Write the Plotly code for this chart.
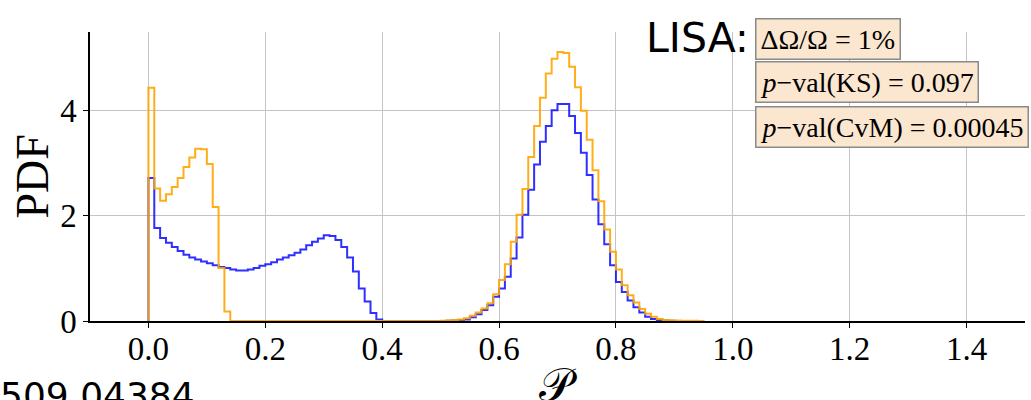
import plotly.graph_objects as go

# ---- data ----
bin_width = 0.01
blue_pdf = [2.72, 1.77, 1.58, 1.49, 1.41, 1.33, 1.26, 1.21, 1.17, 1.13,
            1.10, 1.06, 1.03, 1.01, 0.98, 0.96, 0.96, 0.98, 1.01, 1.05,
            1.08, 1.12, 1.17, 1.21, 1.25, 1.30, 1.36, 1.44, 1.51, 1.57,
            1.63, 1.62, 1.54, 1.41, 1.21, 0.94, 0.62, 0.37, 0.15, 0.03,
            0, 0, 0, 0, 0, 0, 0, 0, 0, 0,
            0.0, 0.005, 0.01, 0.02, 0.03, 0.07, 0.13, 0.21, 0.30, 0.46,
            0.62, 0.84, 1.19, 1.59, 2.02, 2.50, 2.98, 3.41, 3.71, 4.01,
            4.13, 4.13, 3.90, 3.58, 3.20, 2.78, 2.31, 1.84, 1.46, 1.06,
            0.74, 0.55, 0.39, 0.26, 0.16, 0.08, 0.04, 0.02, 0.01, 0.005]
orange_pdf = [4.44, 2.52, 2.29, 2.41, 2.55, 2.72, 2.93, 3.11, 3.28, 3.27,
              2.99, 2.17, 1.01, 0.18, 0, 0, 0, 0, 0, 0,
              0, 0, 0, 0, 0, 0, 0, 0, 0, 0,
              0, 0, 0, 0, 0, 0, 0, 0, 0, 0,
              0, 0, 0, 0, 0, 0, 0, 0, 0, 0,
              0.005, 0.01, 0.02, 0.03, 0.05, 0.10, 0.16, 0.24, 0.34, 0.51,
              0.78, 1.08, 1.51, 2.02, 2.51, 3.12, 3.71, 4.25, 4.71, 4.99,
              5.12, 5.10, 4.84, 4.45, 4.00, 3.45, 2.87, 2.28, 1.74, 1.32,
              0.98, 0.68, 0.49, 0.35, 0.23, 0.14, 0.08, 0.04, 0.02, 0.01,
              0.01, 0.005, 0.005, 0.003, 0.002]
x_ticks = [0.0, 0.2, 0.4, 0.6, 0.8, 1.0, 1.2, 1.4]
y_ticks = [0, 2, 4]
x_title = "𝒫"
y_title = "PDF"
label_lisa = "LISA:"
box_texts = ["ΔΩ/Ω = 1%",
             "<i>p</i>−val(KS) = 0.097",
             "<i>p</i>−val(CvM) = 0.00045"]
ref_text = "509.04384"


def step_xy(vals, w):
    xs = [0.0]
    ys = [0.0]
    for i, v in enumerate(vals):
        xs.append(round(i * w, 6))
        ys.append(v)
    xs.append(round(len(vals) * w, 6))
    ys.append(0.0)
    return xs, ys


fig = go.Figure()
bx, by = step_xy(blue_pdf, bin_width)
ox, oy = step_xy(orange_pdf, bin_width)
fig.add_trace(go.Scatter(x=bx, y=by, mode="lines", line_shape="hv",
                         line=dict(color="rgba(10,10,255,0.85)", width=2),
                         showlegend=False, hoverinfo="skip"))
fig.add_trace(go.Scatter(x=ox, y=oy, mode="lines", line_shape="hv",
                         line=dict(color="rgba(255,165,0,0.9)", width=2),
                         showlegend=False, hoverinfo="skip"))

serif = "Liberation Serif"
W, H = 1031, 400
L, R, T, B = 90, 6, 32, 79
pw, ph = W - L - R, H - T - B


def px(xp):
    return (xp - L) / pw


def py(yp):
    return (H - B - yp) / ph


fig.update_layout(
    width=W, height=H,
    margin=dict(l=L, r=R, t=T, b=B, autoexpand=False),
    paper_bgcolor="white", plot_bgcolor="white",
    font=dict(family=serif, color="black"),
    xaxis=dict(range=[-0.1, 1.5], tickvals=x_ticks,
               ticktext=[f"{v:.1f}" for v in x_ticks],
               tickfont=dict(size=33, family=serif),
               showgrid=True, gridcolor="#c4c4c4", gridwidth=1,
               showline=True, linecolor="black", linewidth=1.5,
               ticks="outside", ticklen=5, tickcolor="black",
               ticklabelstandoff=-7,
               zeroline=False, automargin=False),
    yaxis=dict(range=[0, 5.5], tickvals=y_ticks,
               tickfont=dict(size=33, family=serif),
               showgrid=True, gridcolor="#c4c4c4", gridwidth=1,
               showline=True, linecolor="black", linewidth=1.5,
               ticks="outside", ticklen=5, tickcolor="black",
               zeroline=False, automargin=False),
)

# axis titles
fig.add_annotation(xref="paper", yref="paper", x=0.5, y=py(358),
                   xanchor="center", yanchor="top", showarrow=False,
                   text=x_title, font=dict(size=46, family=serif))
fig.add_annotation(xref="paper", yref="paper", x=px(32), y=0.5,
                   xanchor="center", yanchor="middle", showarrow=False,
                   textangle=-90, text=y_title,
                   font=dict(size=46, family=serif))

fig.add_annotation(xref="paper", yref="paper", x=px(751), y=py(38),
                   xanchor="right", yanchor="middle", showarrow=False,
                   text=label_lisa,
                   font=dict(size=41, family="DejaVu Sans", color="black"))

box_centers = [39, 82, 126.5]
for txt, cy in zip(box_texts, box_centers):
    fig.add_annotation(xref="paper", yref="paper", x=px(755), y=py(cy),
                       xanchor="left", yanchor="middle", showarrow=False,
                       text=txt, align="left",
                       font=dict(size=28, family=serif, color="black"),
                       bgcolor="#fbe6cf", bordercolor="#8a8a8a",
                       borderwidth=1.5, borderpad=4)

fig.add_annotation(xref="paper", yref="paper", x=px(-2), y=py(373),
                   xanchor="left", yanchor="top", showarrow=False,
                   text=ref_text,
                   font=dict(size=36, family="DejaVu Sans", color="black"))

fig.write_html("out.html")
